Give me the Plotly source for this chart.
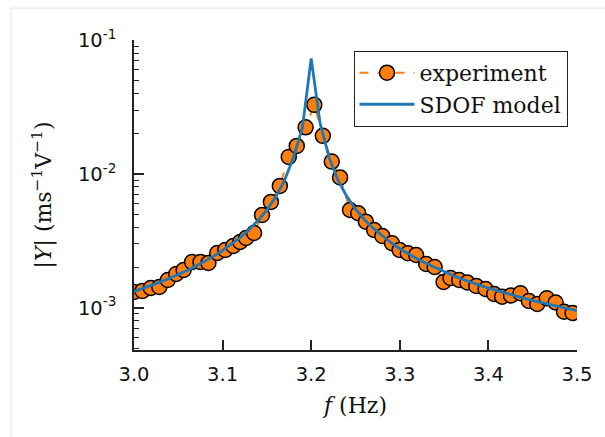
import plotly.graph_objects as go

# Experiment
f_exp = [3.000, 3.0095, 3.019, 3.0286, 3.0381, 3.0476, 3.056, 3.0655, 3.075, 3.084,
         3.094, 3.103, 3.112, 3.1198, 3.1265, 3.1355, 3.1445, 3.1545, 3.1646, 3.1747,
         3.1837, 3.1937, 3.2035, 3.2131, 3.2232, 3.2326, 3.2438, 3.2531, 3.2617, 3.271,
         3.2803, 3.2912, 3.2998, 3.3091, 3.3184, 3.3298, 3.3393, 3.3494, 3.3572, 3.367,
         3.3763, 3.3863, 3.3968, 3.4065, 3.4155, 3.4255, 3.4362, 3.4457, 3.4552, 3.4659,
         3.4759, 3.4854, 3.495]
y_exp = [1.310e-3, 1.333e-3, 1.404e-3, 1.429e-3, 1.611e-3, 1.787e-3, 1.914e-3, 2.197e-3, 2.197e-3, 2.159e-3,
         2.565e-3, 2.701e-3, 2.893e-3, 3.100e-3, 3.320e-3, 3.620e-3, 4.935e-3, 6.175e-3, 8.134e-3, 1.341e-2,
         1.620e-2, 2.230e-2, 3.282e-2, 1.925e-2, 1.236e-2, 9.415e-3, 5.378e-3, 5.081e-3, 4.396e-3, 3.811e-3,
         3.438e-3, 3.032e-3, 2.701e-3, 2.552e-3, 2.478e-3, 2.123e-3, 2.016e-3, 1.557e-3, 1.668e-3, 1.611e-3,
         1.543e-3, 1.453e-3, 1.380e-3, 1.266e-3, 1.209e-3, 1.234e-3, 1.282e-3, 1.122e-3, 1.066e-3, 1.176e-3,
         1.094e-3, 0.933e-3, 0.913e-3]

# SDOF model
f_model = [3.00, 3.01, 3.02, 3.03, 3.04, 3.05, 3.06, 3.07, 3.08, 3.09,
           3.10, 3.11, 3.12, 3.13, 3.14, 3.15, 3.16, 3.17, 3.18, 3.19,
           3.20, 3.21, 3.22, 3.23, 3.24, 3.25, 3.26, 3.27, 3.28, 3.29,
           3.30, 3.31, 3.32, 3.33, 3.34, 3.35, 3.36, 3.37, 3.38, 3.39,
           3.40, 3.41, 3.42, 3.43, 3.44, 3.45, 3.46, 3.47, 3.48, 3.49, 3.50]
y_model = [1.32e-3, 1.39e-3, 1.47e-3, 1.56e-3, 1.66e-3, 1.77e-3, 1.90e-3, 2.05e-3, 2.22e-3, 2.43e-3,
           2.68e-3, 2.98e-3, 3.36e-3, 3.84e-3, 4.49e-3, 5.39e-3, 6.74e-3, 8.97e-3, 1.334e-2, 2.2e-2,
           7.3e-2, 2.4e-2, 1.34e-2, 9.05e-3, 6.82e-3, 5.47e-3, 4.57e-3, 3.93e-3, 3.44e-3, 3.06e-3,
           2.76e-3, 2.52e-3, 2.31e-3, 2.14e-3, 1.99e-3, 1.86e-3, 1.74e-3, 1.64e-3, 1.55e-3, 1.47e-3,
           1.40e-3, 1.34e-3, 1.28e-3, 1.22e-3, 1.18e-3, 1.13e-3, 1.09e-3, 1.05e-3, 1.01e-3, 0.98e-3, 0.95e-3]

x_ticks = [3.0, 3.1, 3.2, 3.3, 3.4, 3.5]
x_ticktext = ["3.0", "3.1", "3.2", "3.3", "3.4", "3.5"]
y_ticks = [1e-3, 1e-2, 1e-1]
y_ticktext = ["10<sup>-3</sup>", "10<sup>-2</sup>", "10<sup>-1</sup>"]
y_minor = [m * 10.0 ** e for e in (-4, -3, -2) for m in range(2, 10)]

ORANGE = "#ff7f0e"
BLUE = "#1f77b4"
AXC = "#222222"

fig = go.Figure()
fig.add_trace(go.Scatter(
    x=f_exp, y=y_exp, mode="lines+markers", name="experiment",
    line=dict(color=ORANGE, width=2, dash="dash"),
    marker=dict(size=15, color=ORANGE, line=dict(color="black", width=1.5)),
))
fig.add_trace(go.Scatter(
    x=f_model, y=y_model, mode="lines", name="SDOF model",
    line=dict(color=BLUE, width=2.8),
))

serif = "DejaVu Serif"
sans = "DejaVu Sans"

fig.update_layout(
    width=605, height=437,
    margin=dict(l=134, r=25, t=40, b=87),
    paper_bgcolor="white", plot_bgcolor="white",
    showlegend=True,
    legend=dict(
        x=0.4955, y=0.965, xanchor="left", yanchor="top",
        bgcolor="white", bordercolor=AXC, borderwidth=1,
        font=dict(family=serif, size=22, color="#111"),
        itemwidth=55, tracegroupgap=0,
    ),
    xaxis=dict(
        range=[3.0, 3.5], showgrid=False, zeroline=False,
        showline=True, linecolor=AXC, linewidth=1.5, mirror=False,
        ticks="inside", ticklen=10, tickwidth=1.5, tickcolor=AXC,
        tickvals=x_ticks, ticktext=x_ticktext,
        tickfont=dict(family=sans, size=19.5, color="#111"),
        ticklabelstandoff=6,
        title=dict(text="<i>f</i> (Hz)", font=dict(family=serif, size=22, color="#111"), standoff=12),
    ),
    yaxis=dict(
        type="log", range=[-3.316, -0.999], showgrid=False, zeroline=False,
        showline=True, linecolor=AXC, linewidth=1.5, mirror=False,
        ticks="inside", ticklen=10, tickwidth=1.5, tickcolor=AXC,
        tickvals=y_ticks, ticktext=y_ticktext,
        tickfont=dict(family=sans, size=19.5, color="#111"),
        ticklabelstandoff=12,
        minor=dict(tickvals=y_minor, ticks="inside", ticklen=5, tickwidth=1.2, tickcolor=AXC, showgrid=False),
        title=dict(text="|<i>Y</i>| (ms<sup>−1</sup>V<sup>−1</sup>)", font=dict(family=serif, size=22, color="#111"), standoff=20),
    ),
    shapes=[dict(type="rect", xref="paper", yref="paper",
                 x0=-0.278, x1=2.0, y0=-1.0, y1=1.103,
                 line=dict(color="#e3e3e3", width=1), fillcolor="rgba(0,0,0,0)", layer="below")],
)

fig.write_html("out.html")
